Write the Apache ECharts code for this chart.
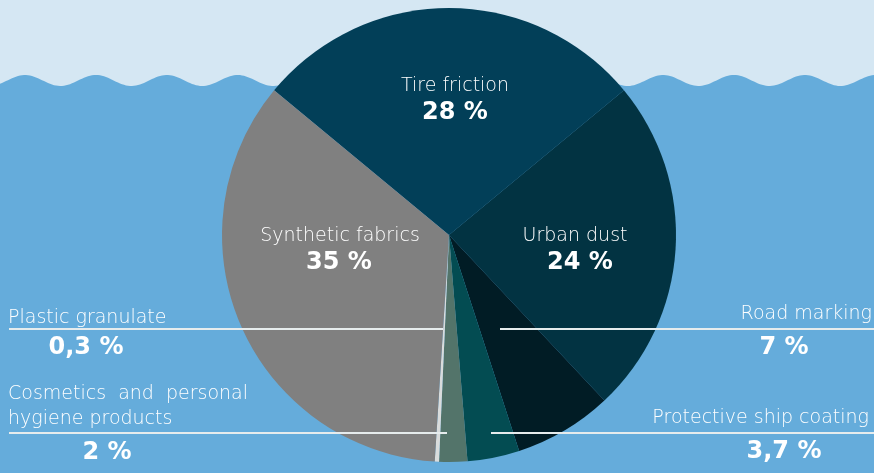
<!DOCTYPE html>
<html>
<head>
<meta charset="utf-8">
<script src="https://cdn.jsdelivr.net/npm/echarts@6/dist/echarts.min.js"></script>
<style>
html,body{margin:0;padding:0;background:#d5e7f3;}
#c{width:874px;height:473px;}
</style>
</head>
<body>
<div id="c"></div>
<script>
// ---- data ----
var categories = ['Tire friction', 'Urban dust', 'Road marking', 'Protective ship coating', 'Cosmetics  and  personal\nhygiene products', 'Plastic granulate', 'Synthetic fabrics'];
var shares = [28, 24, 7, 3.7, 2, 0.3, 35];
var sliceColors = ['#023f58', '#023342', '#011c25', '#034c52', '#53746a', '#d9dcdc', '#808080'];

// ---- label layout (styling only) ----
var labelPos = [
  {nx: 455, ny: 86, vx: 455, vy: 113, align: 'center'},
  {nx: 575, ny: 236, vx: 580, vy: 263, align: 'center'},
  {nx: 872, ny: 314, vx: 784, vy: 348, align: 'right'},
  {nx: 869, ny: 418, vx: 784, vy: 452, align: 'right'},
  {nx: 8, ny: 407, vx: 107, vy: 453, align: 'left'},
  {nx: 8, ny: 318, vx: 86, vy: 348, align: 'left'},
  {nx: 340, ny: 236, vx: 339, vy: 263, align: 'center'}
];
var leaderLines = [
  {x1: 500, x2: 874, y: 329},
  {x1: 491, x2: 874, y: 433},
  {x1: 9, x2: 447, y: 433},
  {x1: 9, x2: 443, y: 329}
];

function fmt(v) { return String(v).replace('.', ',') + ' %'; }

// decorative wave background
var wave = [];
for (var x = 0; x <= 874; x += 2) {
  wave.push([x, 80.5 - 5.5 * Math.cos(2 * Math.PI * (x - 25) / 70.9)]);
}
wave.push([874, 473]); wave.push([0, 473]);

var graphics = [
  {type: 'polygon', shape: {points: wave}, style: {fill: '#65acdb'}, z: 0, silent: true}
];
leaderLines.forEach(function (l) {
  graphics.push({type: 'line', shape: {x1: l.x1, y1: l.y, x2: l.x2, y2: l.y},
    style: {stroke: '#e6eced', lineWidth: 2}, z: 100, silent: true});
});
categories.forEach(function (name, i) {
  var p = labelPos[i];
  graphics.push({type: 'text', x: p.nx, y: p.ny, z: 100, silent: true,
    style: {text: name, fill: '#ffffff', font: '200 19px "DejaVu Sans", "Open Sans", sans-serif',
      align: p.align, verticalAlign: 'middle', lineHeight: 25}});
  graphics.push({type: 'text', x: p.vx, y: p.vy, z: 100, silent: true,
    style: {text: fmt(shares[i]), fill: '#ffffff', font: 'bold 24px "DejaVu Sans", "Open Sans", sans-serif',
      align: 'center', verticalAlign: 'middle'}});
});

var chart = echarts.init(document.getElementById('c'));
chart.setOption({
  backgroundColor: '#d5e7f3',
  animation: false,
  graphic: graphics,
  series: [{
    type: 'pie',
    center: [449, 235],
    radius: [0, 227],
    startAngle: 140.4,
    clockwise: true,
    z: 2,
    label: {show: false},
    labelLine: {show: false},
    emphasis: {disabled: true},
    data: categories.map(function (c, i) {
      return {name: c, value: shares[i], itemStyle: {color: sliceColors[i]}};
    })
  }]
});
</script>
</body>
</html>
